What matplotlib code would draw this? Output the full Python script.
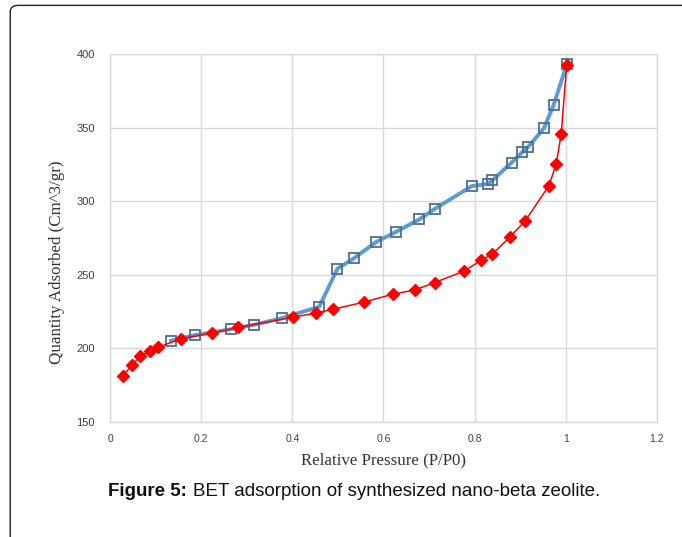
import numpy as np
import matplotlib
matplotlib.use("Agg")
import matplotlib.pyplot as plt
from matplotlib.patches import FancyBboxPatch

# adsorption branch (red diamonds)
ads_p = [0.028, 0.049, 0.066, 0.088, 0.106, 0.156, 0.223, 0.281, 0.402, 0.452,
         0.490, 0.558, 0.620, 0.669, 0.712, 0.776, 0.815, 0.839, 0.878, 0.911,
         0.963, 0.979, 0.990, 1.002]
ads_q = [181.5, 188.7, 194.8, 198.2, 200.8, 206.6, 210.3, 214.3, 221.1, 224.1,
         226.6, 231.5, 236.8, 239.7, 244.7, 252.4, 259.9, 264.1, 275.9, 286.7,
         310.5, 325.3, 345.9, 392.7]

# desorption branch (blue squares)
des_p = [0.134, 0.186, 0.265, 0.317, 0.377, 0.459, 0.499, 0.535, 0.584, 0.627,
         0.679, 0.712, 0.794, 0.829, 0.839, 0.881, 0.904, 0.917, 0.952, 0.973,
         1.002]
des_q = [205.2, 209.0, 213.0, 216.1, 220.5, 228.3, 254.2, 261.2, 272.3, 279.1,
         287.7, 294.7, 310.3, 311.7, 314.2, 326.2, 333.2, 336.8, 349.5, 365.1,
         393.0]

x_ticks = [0, 0.2, 0.4, 0.6, 0.8, 1, 1.2]
x_labels = ["0", "0.2", "0.4", "0.6", "0.8", "1", "1.2"]
y_ticks = [150, 200, 250, 300, 350, 400]

fig = plt.figure(figsize=(6.82, 5.37), dpi=100)

# rounded frame around the figure
frame = FancyBboxPatch((0.015, -0.05), 1.2, 1.04, boxstyle="round,pad=0,rounding_size=0.012",
                       transform=fig.transFigure, fill=False, edgecolor="#222222",
                       linewidth=1.0, clip_on=False)
fig.patches.append(frame)

ax = fig.add_axes([0.1613, 0.2142, 0.802, 0.6852])

ax.plot(des_p, des_q, color="#5B9BD5", linewidth=2.8, zorder=3)
ax.plot(des_p, des_q, linestyle="none", marker="s", markersize=7.5,
        markerfacecolor="none", markeredgecolor="#4E6E8E", markeredgewidth=1.3, zorder=4)
ax.plot(ads_p, ads_q, color="#FF0000", linewidth=1.1, marker="D", markersize=6.5,
        markerfacecolor="#FF0000", markeredgecolor="#FF0000", zorder=5)

ax.set_xlim(0, 1.2)
ax.set_ylim(150, 400)
ax.set_xticks(x_ticks)
ax.set_xticklabels(x_labels)
ax.set_yticks(y_ticks)
ax.grid(True, color="#D9D9D9", linewidth=1.0)
ax.set_axisbelow(True)
for s in ax.spines.values():
    s.set_color("#D9D9D9")
    s.set_linewidth(1.0)
ax.tick_params(axis="x", length=0, pad=9, labelsize=7.5, labelcolor="#404040")
ax.tick_params(axis="y", length=0, pad=11, labelsize=8, labelcolor="#404040")
for lab in ax.get_xticklabels() + ax.get_yticklabels():
    lab.set_family("Liberation Sans")

ax.set_xlabel("Relative Pressure (P/P0)", fontsize=12.2, family="Liberation Serif",
              color="#333333", labelpad=6)
fig.text(0.083, 1 - 262 / 537, "Quantity Adsorbed (Cm^3/gr)", fontsize=12.2,
         family="Liberation Serif", color="#333333", rotation=90, ha="center", va="center")

cap_y = 1 - 492 / 537
t1 = fig.text(108 / 682, cap_y, "Figure 5:", fontsize=13.5, fontweight="bold",
              family="Liberation Sans", color="#111111", va="center")
fig.canvas.draw()
bb = t1.get_window_extent()
fig.text((bb.x1 + 6) / 682, cap_y, "BET adsorption of synthesized nano-beta zeolite.",
         fontsize=13.5, family="Liberation Sans", color="#111111", va="center")

fig.savefig("out.png", dpi=100)
